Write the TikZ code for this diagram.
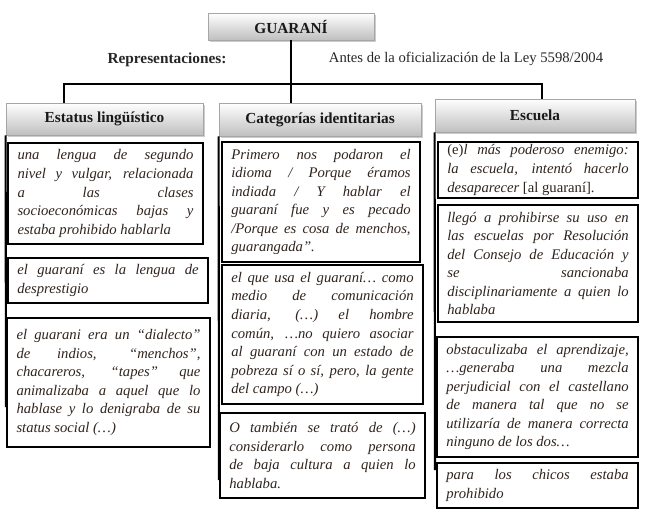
\documentclass[tikz,border=0pt]{standalone}
\usepackage{fontspec}
\setmainfont{Liberation Serif}
\usetikzlibrary{shadows}
\definecolor{inktxt}{RGB}{48,36,30}
\hyphenpenalty=10000
\exhyphenpenalty=10000

\begin{document}
\begin{tikzpicture}[x=0.75pt,y=-0.75pt,
    headbox/.style={draw=gray!70,line width=0.6pt,top color=white,bottom color=gray!50,
      drop shadow={shadow xshift=1.6pt,shadow yshift=-1.6pt,fill=black!40},
      font=\bfseries\fontsize{11.5}{14}\selectfont,text=black!90,inner sep=2pt},
    quotebox/.style={draw=black,line width=1.7pt,fill=white,align=justify,text=inktxt,
      font={\fontsize{11}{13.9}\selectfont\itshape\parindent=0pt},inner xsep=7pt,inner ysep=2pt},
    link/.style={line width=1.9pt},
    spine/.style={line width=1.6pt}]
    \useasboundingbox (0,0) rectangle (650,517);
    % Title and captions
    \node[headbox,minimum width=124.5pt,minimum height=20.25pt] (guarani) at (291,26.5) {GUARANÍ};
    \node[font=\bfseries\fontsize{11.5}{14}\selectfont,text=black!85] (repr) at (167,60) {Representaciones:};
    \node[font=\fontsize{11}{13}\selectfont,text=black!85] (antes) at (466,59) {Antes de la oficialización de la Ley 5598/2004};
    % Column headers
    \node[headbox,minimum width=147.75pt,minimum height=24pt] (estatus) at (104.5,119) {Estatus lingüístico};
    \node[headbox,minimum width=151.5pt,minimum height=24.75pt] (categ) at (320,119.5) {Categorías identitarias};
    \node[headbox,minimum width=150pt,minimum height=24.75pt] (escuela) at (535,115.5) {Escuela};
    % Tree connectors
    \coordinate (busL) at (64,84);
    \coordinate (busR) at (542,84);
    \draw[link] (guarani.south) -- (guarani.south |- categ.north);
    \draw[link] (busL |- estatus.north) -- (busL) -- (busR) -- (busR |- escuela.north);
    % Column spines
    \coordinate (lend) at (6,407);
    \coordinate (mend) at (219,480);
    \coordinate (rend) at (435,470);
    \draw[spine] (estatus.south west) -- (lend);
    \draw[spine] (categ.south west) -- (mend);
    \draw[spine] (escuela.south west) -- (rend);
    % Estatus lingüístico
    \node[quotebox,text width=132pt,minimum height=75.75pt] (lq1) at (105.5,193.5)
      {una lengua de segundo \linebreak nivel y vulgar, relacionada \linebreak a las clases \linebreak socioeconómicas bajas y \linebreak estaba prohibido hablarla};
    \node[quotebox,text width=136pt,minimum height=33.75pt] (lq2) at (108,280.5)
      {el guaraní es la lengua de \linebreak desprestigio};
    \node[quotebox,text width=138pt,minimum height=96.75pt] (lq3) at (108.5,382.5)
      {el guarani era un “dialecto” \linebreak de indios, “menchos”, \linebreak chacareros, “tapes” que \linebreak animalizaba a aquel que lo \linebreak hablase y lo denigraba de su \linebreak status social (…)};
    % Categorías identitarias
    \node[quotebox,text width=134.5pt,minimum height=90pt] (mq1) at (321,202)
      {Primero nos podaron el \linebreak idioma / Porque éramos \linebreak indiada / Y hablar el \linebreak guaraní fue y es pecado \linebreak /Porque es cosa de menchos, \linebreak guarangada”.};
    \node[quotebox,text width=136.75pt,minimum height=104.25pt] (mq2) at (322.5,334.5)
      {el que usa el guaraní… como \linebreak medio de comunicación \linebreak diaria, (…) el hombre \linebreak común, …no quiero asociar \linebreak al guaraní con un estado de \linebreak pobreza sí o sí, pero, la gente \linebreak del campo (…)};
    \node[quotebox,text width=139.75pt,minimum height=63.75pt] (mq3) at (322.5,455.5)
      {O también se trató de (…) \linebreak considerarlo como persona \linebreak de baja cultura a quien lo \linebreak hablaba.};
    % Escuela
    \node[quotebox,text width=136pt,minimum height=42pt] (rq1) at (538,170)
      {{\upshape (e)}l más poderoso enemigo: \linebreak la escuela, intentó hacerlo \linebreak desaparecer {\upshape [al guaraní].}};
    \node[quotebox,text width=136pt,minimum height=87.75pt] (rq2) at (538,263.5)
      {llegó a prohibirse su uso en \linebreak las escuelas por Resolución \linebreak del Consejo de Educación y \linebreak se sancionaba \linebreak disciplinariamente a quien lo \linebreak hablaba};
    \node[quotebox,text width=136.75pt,minimum height=90pt] (rq3) at (537.5,397)
      {obstaculizaba el aprendizaje, \linebreak …generaba una mezcla \linebreak perjudicial con el castellano \linebreak de manera tal que no se \linebreak utilizaría de manera correcta \linebreak ninguno de los dos…};
    \node[quotebox,text width=136.75pt,minimum height=33.75pt] (rq4) at (537.5,485.5)
      {para los chicos estaba \linebreak prohibido};
\end{tikzpicture}
\end{document}
